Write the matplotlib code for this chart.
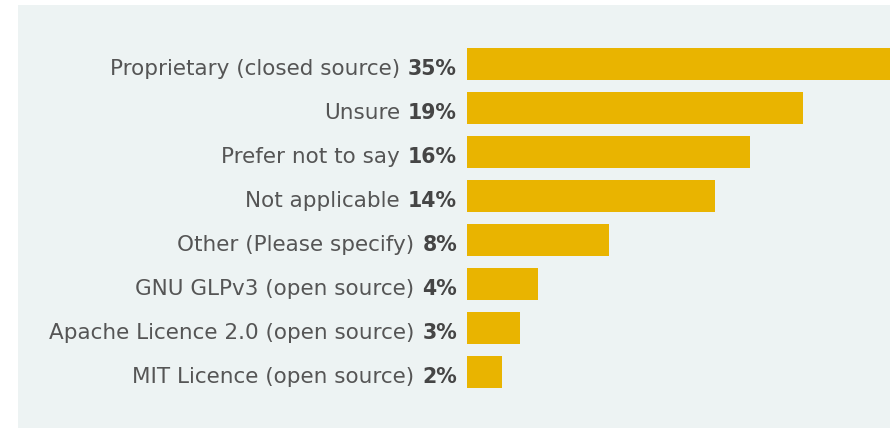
import matplotlib.pyplot as plt
from matplotlib.patches import Rectangle

labels = [
    "Proprietary (closed source)",
    "Unsure",
    "Prefer not to say",
    "Not applicable",
    "Other (Please specify)",
    "GNU GLPv3 (open source)",
    "Apache Licence 2.0 (open source)",
    "MIT Licence (open source)",
]
values = [35, 19, 16, 14, 8, 4, 3, 2]

W, H = 890, 428
fig = plt.figure(figsize=(W / 100, H / 100), dpi=100)
fig.patch.set_facecolor("white")

# light panel behind the chart
fig.patches.append(Rectangle((18 / W, 0), 1 - 18 / W, (H - 5) / H,
                             transform=fig.transFigure, facecolor="#edf3f3",
                             edgecolor="none", zorder=-10))

# axes: bars start at x=467, centres 64..372 px from top
left = 467 / W
top_px, bot_px = 42, 394
ax = fig.add_axes([left, (H - bot_px) / H, 1 - left, (bot_px - top_px) / H])
ax.set_facecolor("none")
ypos = list(range(len(values)))
ax.barh(ypos, values, height=32 / 44, color="#e9b400")
ax.set_xlim(0, (W - 467) / 17.7)
ax.set_ylim(len(values) - 0.5, -0.5)
ax.axis("off")

font = "DejaVu Sans"
for y, lab, v in zip(ypos, labels, values):
    pct = ax.annotate(f"{v}%", xy=(0, y), xycoords=("axes fraction", "data"),
                      xytext=(-10, -11), textcoords="offset pixels",
                      ha="right", va="baseline", fontsize=14.8, fontweight="bold",
                      color="#454545", family=font)
    ax.annotate(lab, xy=(0, y), xycoords=(pct, "data"), xytext=(-8, -11),
                textcoords="offset pixels", ha="right", va="baseline",
                fontsize=15.5, color="#555555", family=font)

fig.savefig("out.png", dpi=100)
